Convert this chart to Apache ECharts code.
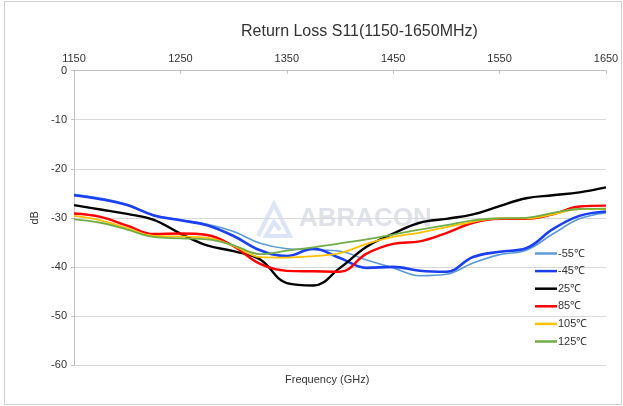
<!DOCTYPE html>
<html>
<head>
<meta charset="utf-8">
<script src="https://cdn.jsdelivr.net/npm/echarts@6/dist/echarts.min.js"></script>
<style>
  html, body { margin: 0; padding: 0; background: #fff; }
  #chart { width: 623px; height: 406px; }
</style>
</head>
<body>
<div id="chart"></div>
<script>
// frequency points (MHz)
const freqs = [1150, 1175, 1200, 1225, 1250, 1275, 1300, 1325, 1350, 1375, 1400,
  1425, 1450, 1475, 1500, 1525, 1550, 1575, 1600, 1625, 1650];
const xTicks = [1150, 1250, 1350, 1450, 1550, 1650];
const yTicks = [0, -10, -20, -30, -40, -50, -60];

// S11 in dB for each temperature
const s11_m55 = [-25.2, -26.0, -27.3, -29.4, -30.4, -31.3, -32.8, -35.2, -36.3, -36.5, -36.8,
  -38.6, -40.2, -41.8, -41.5, -39.2, -37.5, -36.6, -33.3, -30.2, -29.0];
const s11_m45 = [-25.4, -26.2, -27.4, -29.5, -30.5, -31.5, -33.7, -36.6, -37.8, -36.3, -38.2,
  -40.2, -40.0, -40.8, -41.0, -38.0, -36.9, -36.2, -32.3, -29.6, -28.7];
const s11_25 = [-27.4, -28.3, -29.2, -30.4, -33.2, -35.6, -36.8, -38.5, -43.3, -43.8, -40.2,
  -35.9, -33.2, -31.0, -30.2, -29.3, -27.6, -26.0, -25.4, -24.8, -23.8];
const s11_85 = [-29.1, -29.8, -31.6, -33.3, -33.2, -33.5, -35.8, -39.4, -40.8, -40.9, -41.0,
  -37.3, -35.3, -34.8, -33.1, -31.0, -30.2, -30.2, -29.3, -27.7, -27.5];
const s11_105 = [-29.6, -30.5, -32.1, -33.7, -33.8, -34.1, -35.7, -38.0, -38.1, -37.8, -37.2,
  -35.3, -33.9, -33.0, -31.9, -30.8, -30.1, -30.1, -29.3, -28.2, -28.2];
const s11_125 = [-30.3, -31.0, -32.4, -33.9, -34.2, -34.4, -35.6, -37.4, -36.7, -36.0, -35.2,
  -34.4, -33.4, -32.4, -31.5, -30.5, -30.1, -30.0, -29.0, -28.2, -28.1];

const seriesNames = ["-55℃", "-45℃", "25℃", "85℃", "105℃", "125℃"];
const seriesData = [s11_m55, s11_m45, s11_25, s11_85, s11_105, s11_125];
const colors = ["#5b9bd5", "#1a3ff0", "#000000", "#ff0000", "#ffc000", "#70ad47"];
const widths = [1.6, 2.6, 2.4, 2.4, 1.8, 1.8];

const font = "Liberation Sans, Arial, sans-serif";

let myChart = echarts.init(document.getElementById("chart"));

const series = seriesNames.map((name, i) => ({
  name: name,
  type: "line",
  data: freqs.map((f, j) => [f, seriesData[i][j]]),
  smooth: 0.4,
  showSymbol: false,
  symbol: "none",
  lineStyle: { color: colors[i], width: widths[i] },
  itemStyle: { color: colors[i] },
  z: 3
}));

let option = {
  animation: false,
  backgroundColor: "#fff",
  textStyle: { fontFamily: font },
  title: {
    text: "Return Loss S11(1150-1650MHz)",
    left: 236,
    top: 19,
    textStyle: { fontFamily: font, fontSize: 16, fontWeight: "normal", color: "#333333" }
  },
  legend: {
    data: seriesNames,
    orient: "vertical",
    left: 530,
    top: 242,
    icon: "rect",
    itemWidth: 22,
    itemHeight: 2.5,
    itemGap: 4.6,
    textStyle: { fontFamily: font, fontSize: 11, color: "#333333", lineHeight: 13, padding: [0, 0, 0, -4] }
  },
  grid: { left: 74, right: 17, top: 70.7, bottom: 41 },
  xAxis: {
    type: "value",
    position: "top",
    min: 1150,
    max: 1650,
    interval: 100,
    axisLine: { show: true, lineStyle: { color: "#bfbfbf", width: 1 } },
    axisTick: { show: true, inside: true, length: 3, lineStyle: { color: "#bfbfbf" } },
    axisLabel: {
      fontFamily: font, fontSize: 11, color: "#333333", margin: 6,
      formatter: (v) => String(v)
    },
    splitLine: { show: false }
  },
  yAxis: {
    type: "value",
    min: -60,
    max: 0,
    interval: 10,
    name: "dB",
    nameLocation: "middle",
    nameRotate: 90,
    nameGap: 32,
    nameTextStyle: { fontFamily: font, fontSize: 11, color: "#333333" },
    axisLine: { show: true, lineStyle: { color: "#bfbfbf", width: 1 } },
    axisTick: { show: true, length: 3, lineStyle: { color: "#bfbfbf" } },
    axisLabel: { fontFamily: font, fontSize: 11, color: "#333333", margin: 7 },
    splitLine: { show: true, lineStyle: { color: "#d9d9d9", width: 1 } }
  },
  graphic: [
    {
      type: "rect",
      shape: { x: 4.5, y: 1.5, width: 617, height: 403 },
      style: { fill: "none", stroke: "#d0d0d0", lineWidth: 1 },
      z: -10
    },
    {
      type: "polyline",
      shape: { points: [[258, 236], [274, 204], [290, 236], [266, 236], [274, 222], [280, 230]] },
      style: { fill: "none", stroke: "#dce5f5", lineWidth: 4 },
      z: 0
    },
    {
      type: "text",
      left: 299,
      top: 206,
      style: {
        text: "ABRACON",
        font: "bold 26px " + font,
        fill: "#e0e2ea"
      },
      z: 0
    },
    {
      type: "text",
      left: 285,
      top: 374,
      style: {
        text: "Frequency (GHz)",
        font: "11px " + font,
        fill: "#333333"
      }
    }
  ],
  series: series
};
myChart.setOption(option);
</script>
</body>
</html>
